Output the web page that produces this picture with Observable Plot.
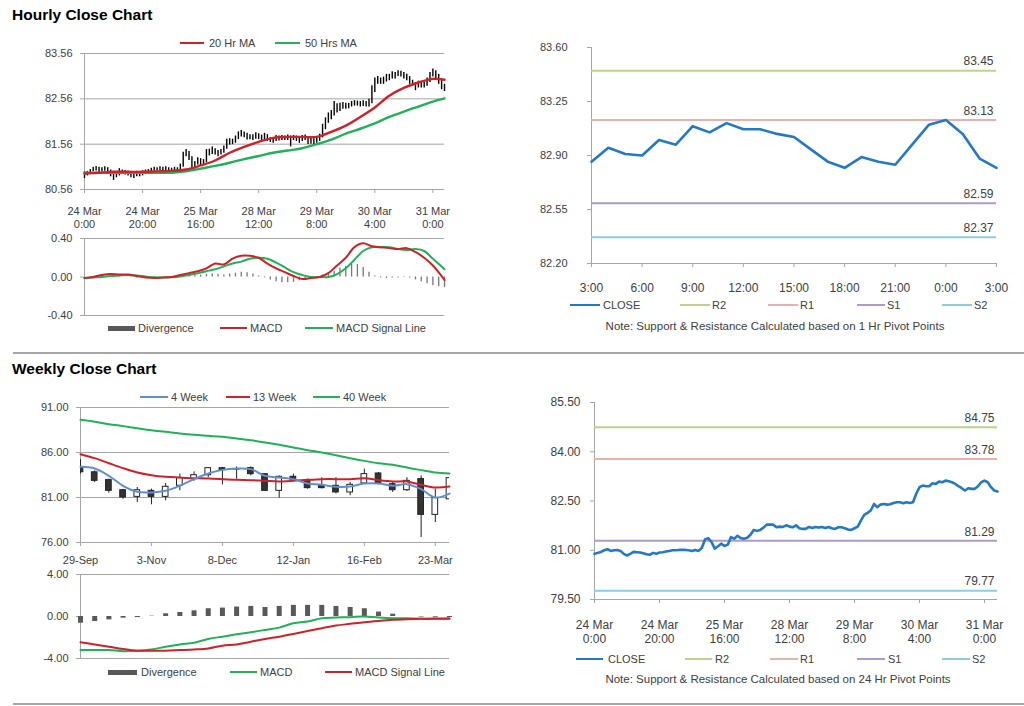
<!DOCTYPE html>
<html><head><meta charset="utf-8">
<script src="https://cdn.jsdelivr.net/npm/d3@7"></script>
<script src="https://cdn.jsdelivr.net/npm/@observablehq/plot@0.6"></script>
<style>
body{margin:0;background:#fff;font-family:"Liberation Sans",Arial,sans-serif;}
#page{position:relative;width:1024px;height:706px;overflow:hidden;background:#fff}
.title{position:absolute;font-weight:bold;font-size:15.5px;color:#000;white-space:nowrap}
.lg{position:absolute;font-size:11px;color:#404040;white-space:nowrap;line-height:14px}
.note{position:absolute;font-size:11.5px;color:#404040;white-space:nowrap;line-height:14px;transform:translateX(-50%)}
</style></head><body><div id="page"></div>
<script>
// ---------------- DATA ----------------
// Hourly bars (24 Mar 0:00 .. 31 Mar ~4:00), bar index 0..124
const hourTicks = [0, 20, 40, 60, 80, 100, 120];
const hourTickLabels = ["24 Mar\n0:00","24 Mar\n20:00","25 Mar\n16:00","28 Mar\n12:00","29 Mar\n8:00","30 Mar\n4:00","31 Mar\n0:00"];
const hourlyClose = [80.89,80.92,80.95,81.00,81.03,80.98,81.00,81.01,80.98,80.89,80.84,80.89,80.95,80.94,80.93,80.91,80.88,80.86,80.92,80.89,
80.93,80.94,80.96,80.98,81.00,81.00,81.01,81.01,81.01,81.00,80.98,81.01,80.98,81.07,81.33,81.37,81.25,81.05,81.12,81.20,
81.13,81.17,81.40,81.35,81.44,81.37,81.35,81.38,81.47,81.62,81.59,81.62,81.69,81.78,81.78,81.78,81.70,81.72,81.71,81.76,
81.72,81.70,81.76,81.67,81.65,81.65,81.71,81.68,81.71,81.69,81.71,81.68,81.71,81.67,81.65,81.70,81.70,81.67,81.63,81.62,
81.67,81.72,81.91,82.08,82.14,82.21,82.41,82.31,82.39,82.41,82.39,82.40,82.44,82.46,82.46,82.43,82.46,82.44,82.46,82.72,
82.92,82.97,82.95,82.95,83.04,83.02,83.09,83.07,83.12,83.10,83.07,83.02,82.95,82.89,82.82,82.89,82.87,82.87,82.95,83.07,
83.12,83.07,82.92,82.82,82.79];
const hourlyHigh = [80.95,80.96,81.00,81.05,81.07,81.05,81.04,81.06,81.04,80.99,80.93,80.93,81.02,80.99,80.98,80.96,80.94,80.92,80.96,80.95,
80.97,80.99,81.00,81.03,81.05,81.04,81.06,81.05,81.06,81.04,81.03,81.05,81.04,81.12,81.38,81.44,81.40,81.28,81.18,81.26,
81.24,81.22,81.44,81.45,81.50,81.46,81.42,81.44,81.52,81.67,81.68,81.67,81.74,81.83,81.86,81.83,81.80,81.77,81.77,81.81,
81.79,81.76,81.80,81.77,81.70,81.70,81.75,81.74,81.75,81.74,81.76,81.74,81.75,81.74,81.71,81.75,81.76,81.73,81.70,81.68,
81.72,81.78,82.00,82.14,82.25,82.30,82.50,82.45,82.46,82.48,82.46,82.46,82.50,82.52,82.51,82.50,82.52,82.50,82.55,82.85,
83.02,83.05,83.02,83.04,83.10,83.10,83.16,83.14,83.18,83.17,83.14,83.10,83.05,82.97,82.92,82.95,82.94,82.93,83.02,83.14,
83.22,83.18,83.10,82.98,82.88];
const hourlyLow = [80.80,80.86,80.90,80.95,80.97,80.94,80.95,80.96,80.90,80.84,80.76,80.82,80.86,80.90,80.88,80.86,80.82,80.80,80.84,80.84,
80.86,80.90,80.92,80.94,80.96,80.96,80.97,80.96,80.96,80.95,80.94,80.95,80.94,80.96,81.05,81.28,81.20,80.98,81.02,81.10,
81.08,81.10,81.15,81.30,81.33,81.32,81.28,81.32,81.36,81.45,81.54,81.55,81.58,81.66,81.72,81.70,81.65,81.66,81.64,81.67,
81.66,81.64,81.66,81.62,81.60,81.58,81.62,81.63,81.64,81.64,81.64,81.50,81.64,81.62,81.58,81.62,81.64,81.55,81.56,81.52,
81.58,81.62,81.70,81.88,82.02,82.10,82.18,82.25,82.28,82.33,82.33,82.34,82.38,82.40,82.40,82.38,82.39,82.38,82.38,82.45,
82.70,82.88,82.88,82.88,82.93,82.96,83.00,83.00,83.05,83.04,83.00,82.96,82.88,82.84,82.74,82.80,82.80,82.80,82.84,82.92,
83.04,83.00,82.88,82.76,82.72];
const hourlyYTicks = [80.56, 81.56, 82.56, 83.56];
const maBars = [0,5,10,15,20,25,30,35,40,45,50,55,60,65,70,75,80,85,90,95,100,105,110,115,120,124];
const ma20 = [80.91,80.93,80.95,80.95,80.95,80.96,80.97,81.00,81.09,81.20,81.37,81.50,81.61,81.70,81.72,81.72,81.72,81.83,81.97,82.16,82.37,82.63,82.80,82.92,83.00,82.98];
const ma50 = [80.93,80.93,80.93,80.93,80.93,80.93,80.93,80.96,81.02,81.08,81.15,81.23,81.30,81.37,81.42,81.47,81.56,81.66,81.79,81.90,82.02,82.16,82.28,82.39,82.50,82.57];

// Hourly MACD
const macdBars = [0,3,6,9,12,15,18,21,24,27,30,33,36,39,42,45,48,51,54,57,60,63,66,69,72,75,78,81,84,87,90,93,96,99,102,105,108,111,114,117,120,123,124];
const hMacd = [-0.01,0.00,0.02,0.03,0.025,0.025,0.01,-0.005,-0.01,-0.005,0.00,0.02,0.04,0.06,0.09,0.14,0.13,0.19,0.22,0.22,0.20,0.14,0.09,0.05,0.01,-0.02,-0.01,0.00,0.04,0.12,0.20,0.31,0.35,0.32,0.31,0.30,0.29,0.30,0.26,0.20,0.12,0.01,-0.03];
const hSignal = [-0.01,-0.005,0.00,0.01,0.015,0.02,0.015,0.005,-0.003,-0.005,-0.003,0.005,0.02,0.04,0.06,0.08,0.11,0.14,0.16,0.19,0.20,0.19,0.15,0.10,0.05,0.02,0.00,0.00,0.00,0.03,0.09,0.18,0.27,0.31,0.31,0.31,0.29,0.28,0.29,0.27,0.19,0.11,0.08];
const divBars = [0,2,4,6,8,10,12,14,16,18,20,22,24,26,28,30,32,34,36,38,40,42,44,46,48,50,52,54,56,58,60,62,64,66,68,70,72,74,76,78,80,82,84,86,88,90,92,94,96,98,100,102,104,106,108,110,112,114,116,118,120,122,124];
const hDiv = [0.00,0.005,0.01,0.01,0.01,0.01,0.005,0.00,-0.005,-0.01,-0.01,-0.005,-0.005,0.00,0.00,0.005,0.01,0.015,0.02,0.02,0.02,0.025,0.03,0.025,0.02,0.03,0.04,0.05,0.045,0.03,0.01,-0.01,-0.03,-0.05,-0.06,-0.06,-0.055,-0.04,-0.02,-0.005,0.00,0.02,0.04,0.06,0.09,0.11,0.13,0.13,0.10,0.05,0.01,-0.01,-0.015,-0.01,-0.01,0.005,-0.01,-0.03,-0.05,-0.07,-0.09,-0.10,-0.11];
const hMacdTicks = [-0.4, 0, 0.4];

// Last 25 hours, 1 Hr pivots
const lastHours = ["3:00","4:00","5:00","6:00","7:00","8:00","9:00","10:00","11:00","12:00","13:00","14:00","15:00","16:00","17:00","18:00","19:00","20:00","21:00","22:00","23:00","0:00","1:00","2:00","3:00"];
const lastClose = [82.86,82.95,82.91,82.90,83.00,82.97,83.09,83.05,83.11,83.07,83.07,83.04,83.02,82.94,82.86,82.82,82.89,82.86,82.84,82.97,83.10,83.13,83.04,82.88,82.82];
const lastYTicks = [82.20, 82.55, 82.90, 83.25, 83.60];
const pivotNames = ["R2","R1","S1","S2"];
const pivotColors = ["#bcd38c","#eab0ae","#ad9bcb","#8ccde0"];
const pivot1Hr = [83.45, 83.13, 82.59, 82.37];
const pivot24Hr = [84.75, 83.78, 81.29, 79.77];
const dayYTicks = [79.50, 81.00, 82.50, 84.00, 85.50];

// Weekly (29-Sep .. 30-Mar), week index 0..26
const weekTicks = [0, 5, 10, 15, 20, 25];
const weekTickLabels = ["29-Sep","3-Nov","8-Dec","12-Jan","16-Feb","23-Mar"];
const wkOpen  = [84.40,83.80,82.93,81.81,81.07,81.74,81.07,82.30,83.04,83.48,84.26,84.10,84.26,83.59,81.74,83.30,82.93,82.30,82.30,81.56,82.56,83.67,82.48,81.81,83.04,79.07,80.80];
const wkClose = [83.80,82.85,81.74,81.00,81.81,81.07,82.19,83.15,83.48,84.26,84.04,84.15,83.59,81.74,83.30,82.93,82.04,82.04,81.56,82.41,83.60,82.56,81.81,82.85,79.07,80.93,83.15];
const wkHigh  = [85.20,83.96,83.04,81.90,82.11,81.93,82.56,83.60,83.85,84.33,84.33,84.40,84.40,83.67,83.40,83.60,83.04,83.20,83.20,82.67,84.15,83.78,82.67,83.20,83.40,81.93,83.30];
const wkLow   = [83.60,82.67,81.48,80.81,80.44,80.19,80.63,81.74,82.80,83.20,82.40,83.04,83.40,81.67,80.93,82.80,81.93,81.95,81.40,81.19,82.48,82.41,81.56,81.67,76.56,78.22,80.70];
const wk4  = [84.41,84.22,83.41,82.30,81.63,81.56,81.74,82.30,83.04,83.67,84.07,84.22,84.15,83.41,83.22,83.04,82.56,82.41,82.19,82.22,82.56,82.56,82.30,82.48,81.93,81.00,81.44];
const wk13 = [85.81,85.37,84.81,84.26,83.78,83.48,83.30,83.22,83.15,83.11,83.04,82.96,82.93,82.85,82.78,82.85,82.96,83.04,83.04,83.04,83.15,82.93,82.78,82.78,82.41,82.11,82.22];
const wk40 = [89.63,89.41,89.15,88.93,88.70,88.48,88.30,88.11,87.96,87.85,87.74,87.56,87.37,87.11,86.85,86.56,86.26,86.00,85.70,85.37,85.07,84.81,84.63,84.33,84.04,83.78,83.67];
const wkYTicks = [76, 81, 86, 91];
const wkDiv    = [-0.64,-0.48,-0.32,-0.16,-0.10,0.03,0.26,0.38,0.54,0.74,0.80,0.90,0.96,0.86,0.96,1.06,1.06,1.06,0.96,0.86,0.74,0.42,0.22,0.00,-0.05,-0.07,-0.10];
const wkMacd   = [-3.20,-3.20,-3.20,-3.30,-3.26,-3.14,-2.88,-2.66,-2.50,-2.14,-1.92,-1.70,-1.50,-1.28,-1.06,-0.64,-0.48,-0.16,-0.10,-0.06,0.00,-0.10,-0.16,-0.16,-0.22,-0.22,-0.16];
const wkSignal = [-2.46,-2.66,-2.88,-3.10,-3.26,-3.26,-3.26,-3.20,-3.14,-3.04,-2.78,-2.66,-2.40,-2.14,-1.92,-1.66,-1.38,-1.12,-0.86,-0.70,-0.54,-0.42,-0.32,-0.26,-0.22,-0.19,-0.22];
const wkMacdTicks = [-4, 0, 4];

// ---------------- STYLE ----------------
const RED = "#cc2229", GREEN = "#22b058", BLUE = "#2479c4", LBLUE = "#5e90d0", DIV = "#595959";
const AX = "#a6a6a6", TXT = "#404040";
const FONT = '"Liberation Sans", Arial, sans-serif';
const style = (fs) => ({fontFamily: FONT, fontSize: fs + "px", color: TXT, background: "transparent", overflow: "visible"});
const page = document.getElementById("page");
const f2 = d => d.toFixed(2);

function place(el, left, top) {
  el.style.position = "absolute"; el.style.left = left + "px"; el.style.top = top + "px";
  page.appendChild(el);
}
function div(cls, left, top, text, extra) {
  const d = document.createElement("div"); d.className = cls;
  d.style.left = left + "px"; d.style.top = top + "px"; d.textContent = text;
  if (extra) d.style.cssText += extra;
  page.appendChild(d); return d;
}
function swatch(x1, x2, y, h, color) {
  const d = document.createElement("div");
  d.style.cssText = `position:absolute;left:${x1}px;top:${y - h / 2}px;width:${x2 - x1}px;height:${h}px;background:${color}`;
  page.appendChild(d);
}
function legend(items, y) {
  for (const it of items) { swatch(it.x1, it.x2, y, it.h, it.c); div("lg", it.tx, y - 7, it.t); }
}

// titles and separators
div("title", 12, 6, "Hourly Close Chart");
div("title", 12, 360, "Weekly Close Chart");
swatch(13, 1024, 352.5, 2, "#a6a6a6");
swatch(13, 1024, 704, 2, "#a6a6a6");

const idx = (d, i) => i;

// ---------------- PANEL 1: hourly candles + MAs ----------------
place(Plot.plot({
  width: 460, height: 200, marginLeft: 84, marginRight: 16, marginTop: 23, marginBottom: 41,
  style: style(11),
  x: {domain: [0, 124], label: null, axis: null},
  y: {domain: [80.56, 83.56], label: null, axis: null},
  marks: [
    Plot.ruleY(hourlyYTicks, {stroke: AX}),
    Plot.ruleX([0], {stroke: AX}),
    Plot.axisY({ticks: hourlyYTicks, tickFormat: f2, tickSize: 4, tickPadding: 8, stroke: AX, fill: TXT}),
    Plot.axisX({ticks: hourTicks, tickSize: 4, tickFormat: () => "", stroke: AX}),
    Plot.text(hourTicks, {x: d => d, text: (d, i) => hourTickLabels[i], frameAnchor: "bottom", dy: 16, lineAnchor: "top", lineHeight: 1.18, fill: TXT}),
    Plot.ruleX(hourlyClose, {x: idx, y1: (d, i) => hourlyLow[i], y2: (d, i) => hourlyHigh[i], stroke: "#000", strokeWidth: 1.4}),
    Plot.line(ma50, {x: (d, i) => maBars[i], y: d => d, stroke: GREEN, strokeWidth: 2.4, curve: "catmull-rom"}),
    Plot.line(ma20, {x: (d, i) => maBars[i], y: d => d, stroke: RED, strokeWidth: 2.4, curve: "catmull-rom"})
  ]
}), 0, 30);
legend([
  {x1: 180, x2: 204, h: 2, c: RED, tx: 209, t: "20 Hr MA"},
  {x1: 275, x2: 300, h: 2, c: GREEN, tx: 305, t: "50 Hrs MA"}
], 43);

// ---------------- PANEL 2: hourly MACD ----------------
place(Plot.plot({
  width: 460, height: 110, marginLeft: 84, marginRight: 16, marginTop: 8, marginBottom: 25,
  style: style(11),
  x: {domain: [0, 124], label: null, axis: null},
  y: {domain: [-0.4, 0.4], label: null, axis: null},
  marks: [
    Plot.ruleY([0.4, -0.4], {stroke: AX}),
    Plot.ruleX([0], {stroke: AX}),
    Plot.axisY({ticks: hMacdTicks, tickFormat: f2, tickSize: 4, tickPadding: 8, stroke: AX, fill: TXT}),
    Plot.ruleX(hDiv, {x: (d, i) => divBars[i], y1: 0, y2: d => d, stroke: "#777", strokeWidth: 1.3}),
    Plot.line(hSignal, {x: (d, i) => macdBars[i], y: d => d, stroke: GREEN, strokeWidth: 2, curve: "catmull-rom"}),
    Plot.line(hMacd, {x: (d, i) => macdBars[i], y: d => d, stroke: RED, strokeWidth: 2, curve: "catmull-rom"})
  ]
}), 0, 230);
legend([
  {x1: 108, x2: 135, h: 5, c: DIV, tx: 138, t: "Divergence"},
  {x1: 220, x2: 247, h: 2, c: RED, tx: 250, t: "MACD"},
  {x1: 305, x2: 333, h: 2, c: GREEN, tx: 336, t: "MACD Signal Line"}
], 328);

// ---------------- PANEL 3: last 25 hours with 1 Hr pivots ----------------
const pivotMarks = (vals, xmax) => vals.flatMap((v, i) => [
  Plot.ruleY([v], {stroke: pivotColors[i], strokeWidth: 2}),
  Plot.text([v], {x: xmax, y: d => d, text: f2, textAnchor: "end", dx: -3, dy: -9, fill: TXT, fontSize: 12})
]);
place(Plot.plot({
  width: 500, height: 260, marginLeft: 71, marginRight: 24, marginTop: 17, marginBottom: 27,
  style: style(11),
  x: {domain: [0, 24], label: null, axis: null},
  y: {domain: [82.2, 83.6], label: null, axis: null},
  marks: [
    Plot.ruleX([0], {stroke: AX}),
    Plot.ruleY([82.2], {stroke: AX}),
    Plot.axisY({ticks: lastYTicks, tickFormat: f2, tickSize: 4, tickPadding: 20, stroke: AX, fill: TXT}),
    Plot.axisX({ticks: [0, 3, 6, 9, 12, 15, 18, 21, 24], tickFormat: d => lastHours[d], tickSize: 4, tickPadding: 16, stroke: AX, fill: TXT, fontSize: 12}),
    ...pivotMarks(pivot1Hr, 24),
    Plot.line(lastClose, {x: idx, y: d => d, stroke: BLUE, strokeWidth: 2.6})
  ]
}), 520, 30);
const pivLegend = (y, xs) => legend([
  {x1: xs[0][0], x2: xs[0][1], h: 2, c: BLUE, tx: xs[0][2], t: "CLOSE"},
  ...pivotNames.map((n, i) => ({x1: xs[i + 1][0], x2: xs[i + 1][1], h: 1.5, c: pivotColors[i], tx: xs[i + 1][2], t: n}))
], y);
pivLegend(305, [[570, 600, 603], [680, 710, 712], [768, 798, 800], [857, 885, 887], [942, 972, 974]]);
div("note", 775, 319, "Note: Support & Resistance Calculated based on 1 Hr Pivot Points");

// ---------------- PANEL 4: weekly candles + MAs ----------------
place(Plot.plot({
  width: 460, height: 190, marginLeft: 80, marginRight: 11, marginTop: 27, marginBottom: 28,
  style: style(11),
  x: {domain: [0, 26], label: null, axis: null},
  y: {domain: [76, 91], label: null, axis: null},
  marks: [
    Plot.ruleY(wkYTicks, {stroke: AX}),
    Plot.ruleX([0], {stroke: AX}),
    Plot.axisY({ticks: wkYTicks, tickFormat: f2, tickSize: 4, tickPadding: 8, stroke: AX, fill: TXT}),
    Plot.axisX({ticks: weekTicks, tickFormat: (d) => weekTickLabels[weekTicks.indexOf(d)], tickSize: 4, tickPadding: 10, stroke: AX, fill: TXT}),
    Plot.ruleX(wkClose, {x: idx, y1: (d, i) => wkLow[i], y2: (d, i) => wkHigh[i], stroke: "#222", strokeWidth: 1, clip: true}),
    Plot.rect(wkClose, {x1: (d, i) => i - 0.2, x2: (d, i) => i + 0.2, y1: (d, i) => wkOpen[i], y2: d => d,
      fill: (d, i) => d >= wkOpen[i] ? "#ffffff" : "#333333", stroke: "#222", strokeWidth: 1, clip: true}),
    Plot.line(wk40, {x: idx, y: d => d, stroke: GREEN, strokeWidth: 2, curve: "catmull-rom"}),
    Plot.line(wk13, {x: idx, y: d => d, stroke: RED, strokeWidth: 2, curve: "catmull-rom"}),
    Plot.line(wk4, {x: idx, y: d => d, stroke: LBLUE, strokeWidth: 2, curve: "catmull-rom"})
  ]
}), 0, 380);
legend([
  {x1: 140, x2: 168, h: 2, c: LBLUE, tx: 171, t: "4 Week"},
  {x1: 226, x2: 250, h: 2, c: RED, tx: 253, t: "13 Week"},
  {x1: 313, x2: 340, h: 2, c: GREEN, tx: 343, t: "40 Week"}
], 397);

// ---------------- PANEL 5: weekly MACD ----------------
place(Plot.plot({
  width: 460, height: 120, marginLeft: 80, marginRight: 11, marginTop: 9, marginBottom: 27,
  style: style(11),
  x: {domain: [0, 26], label: null, axis: null},
  y: {domain: [-4, 4], label: null, axis: null},
  marks: [
    Plot.ruleY([4, -4], {stroke: AX}),
    Plot.ruleX([0], {stroke: AX}),
    Plot.axisY({ticks: wkMacdTicks, tickFormat: f2, tickSize: 4, tickPadding: 8, stroke: AX, fill: TXT}),
    Plot.ruleX(wkDiv, {x: idx, y1: 0, y2: d => d, stroke: DIV, strokeWidth: 5}),
    Plot.line(wkMacd, {x: idx, y: d => d, stroke: GREEN, strokeWidth: 2, curve: "catmull-rom"}),
    Plot.line(wkSignal, {x: idx, y: d => d, stroke: RED, strokeWidth: 2, curve: "catmull-rom"})
  ]
}), 0, 565);
legend([
  {x1: 108, x2: 137, h: 5, c: DIV, tx: 141, t: "Divergence"},
  {x1: 230, x2: 257, h: 2, c: GREEN, tx: 260, t: "MACD"},
  {x1: 325, x2: 352, h: 2, c: RED, tx: 355, t: "MACD Signal Line"}
], 672);

// ---------------- PANEL 6: hourly close with 24 Hr pivots ----------------
place(Plot.plot({
  width: 500, height: 260, marginLeft: 74, marginRight: 23, marginTop: 17, marginBottom: 46,
  style: style(12),
  x: {domain: [0, 124], label: null, axis: null},
  y: {domain: [79.5, 85.5], label: null, axis: null},
  marks: [
    Plot.ruleX([0], {stroke: AX}),
    Plot.ruleY([79.5], {stroke: AX}),
    Plot.axisY({ticks: dayYTicks, tickFormat: f2, tickSize: 4, tickPadding: 10, stroke: AX, fill: TXT}),
    Plot.axisX({ticks: hourTicks, tickSize: 4, tickFormat: () => "", stroke: AX}),
    Plot.text(hourTicks, {x: d => d, text: (d, i) => hourTickLabels[i], frameAnchor: "bottom", dy: 19, lineAnchor: "top", lineHeight: 1.2, fill: TXT}),
    ...pivotMarks(pivot24Hr, 124),
    Plot.line(hourlyClose, {x: idx, y: d => d, stroke: BLUE, strokeWidth: 2.6})
  ]
}), 520, 385);
pivLegend(659, [[576, 603, 608], [685, 712, 715], [770, 798, 800], [857, 885, 888], [942, 970, 972]]);
div("note", 778, 672, "Note: Support & Resistance Calculated based on 24 Hr Pivot Points");
</script></body></html>
